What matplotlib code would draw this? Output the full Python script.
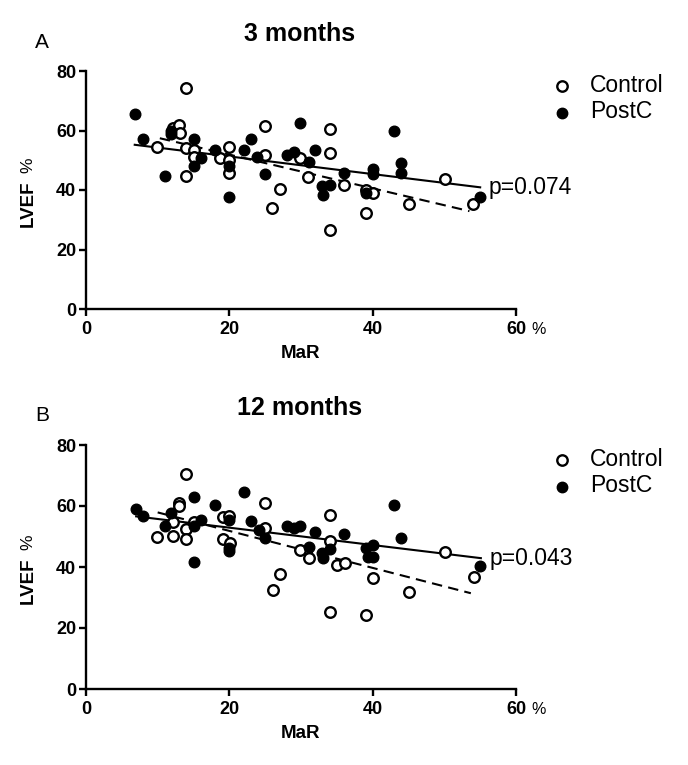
import numpy as np
import matplotlib
matplotlib.use("Agg")
import matplotlib.pyplot as plt

plt.rcParams['font.family'] = ['Liberation Sans', 'DejaVu Sans']

# ---- 3 months ----
ctrl3_x = [14.0, 9.9, 12.1, 13.0, 13.1, 13.9, 15.0, 15.0, 13.9, 18.7, 20.0, 20.0, 20.0,
           25.0, 25.0, 27.0, 25.9, 29.9, 31.0, 34.0, 34.0, 34.0, 36.0, 39.0, 40.1, 39.0,
           45.1, 50.1, 54.0]
ctrl3_y = [74.3, 54.6, 60.8, 61.7, 59.1, 54.1, 53.5, 51.2, 44.7, 50.7, 54.4, 50.1, 45.6,
           61.6, 51.8, 40.2, 33.8, 50.7, 44.5, 60.5, 52.6, 26.5, 41.7, 40.0, 38.9, 32.4,
           35.2, 43.7, 35.2]
post3_x = [6.9, 7.9, 11.0, 11.9, 11.9, 15.0, 15.0, 16.0, 18.0, 20.0, 20.0, 22.0, 23.0,
           23.8, 25.0, 28.0, 29.0, 29.9, 31.1, 32.0, 32.9, 33.0, 34.0, 36.0, 39.0, 40.0,
           40.0, 43.0, 44.0, 44.0, 55.0]
post3_y = [65.5, 57.2, 44.7, 59.7, 58.9, 57.2, 47.9, 50.7, 53.3, 37.7, 47.9, 53.3, 57.2,
           51.2, 45.4, 51.6, 52.9, 62.5, 49.5, 53.5, 41.3, 38.2, 41.7, 45.6, 38.9, 47.0,
           45.3, 59.9, 49.0, 45.6, 37.7]
fit3_post_x = [6.8, 55.0]
fit3_post_y = [55.2, 40.9]
fit3_ctrl_x = [10.3, 53.5]
fit3_ctrl_y = [57.4, 32.9]

# ---- 12 months ----
ctrl12_x = [14.0, 13.0, 13.0, 12.1, 9.9, 12.1, 13.9, 13.9, 15.0, 19.1, 20.0, 19.1, 20.1,
            25.0, 25.0, 27.0, 26.1, 29.9, 31.1, 34.0, 34.0, 35.0, 36.1, 34.0, 39.0, 40.1,
            45.1, 50.1, 54.1]
ctrl12_y = [70.4, 61.1, 60.0, 54.9, 50.0, 50.2, 52.4, 49.1, 54.9, 56.3, 56.8, 49.1, 47.8,
            61.1, 52.7, 37.8, 32.5, 45.6, 42.9, 57.1, 48.4, 40.7, 41.3, 25.1, 24.1, 36.4,
            31.7, 44.8, 36.7]
post12_x = [7.0, 7.9, 11.0, 11.9, 15.0, 15.0, 15.0, 16.0, 18.0, 20.0, 20.0, 20.0, 22.0,
            23.0, 24.1, 25.0, 28.0, 29.0, 29.9, 32.0, 31.1, 32.9, 33.1, 34.1, 36.0, 39.0,
            39.3, 40.0, 40.1, 43.0, 44.0, 55.0]
post12_y = [59.0, 56.8, 53.3, 57.6, 63.1, 41.8, 53.3, 55.5, 60.4, 55.5, 46.2, 45.1, 64.7,
            55.2, 52.2, 49.5, 53.3, 52.7, 53.5, 51.6, 46.7, 44.5, 42.9, 45.9, 50.8, 46.2,
            43.4, 47.3, 43.2, 60.4, 49.5, 40.4]
fit12_post_x = [7.0, 55.1]
fit12_post_y = [56.6, 42.9]
fit12_ctrl_x = [10.0, 53.7]
fit12_ctrl_y = [57.9, 31.4]

panels = [
    ("A", "3 months", "p=0.074", ctrl3_x, ctrl3_y, post3_x, post3_y,
     fit3_post_x, fit3_post_y, fit3_ctrl_x, fit3_ctrl_y),
    ("B", "12 months", "p=0.043", ctrl12_x, ctrl12_y, post12_x, post12_y,
     fit12_post_x, fit12_post_y, fit12_ctrl_x, fit12_ctrl_y),
]

W, H = 688, 765
fig = plt.figure(figsize=(W / 100, H / 100), dpi=100)

# axes boxes in pixels: (left, top, right, bottom)
boxes = [(86, 71, 516, 309), (86, 445, 516, 689)]


def fy(y):
    return 1 - y / H


for (letter, title, ptxt, cx, cy, px, py, fpx, fpy, fcx, fcy), (l, t, r, b) in zip(panels, boxes):
    ax = fig.add_axes([l / W, 1 - b / H, (r - l) / W, (b - t) / H])
    ax.plot(fpx, fpy, color='black', lw=1.5, zorder=2)
    ax.plot(fcx, fcy, color='black', lw=1.5, ls=(0, (5, 3)), zorder=2)
    ax.scatter(cx, cy, s=58, facecolors='white', edgecolors='black', linewidths=1.7,
               zorder=3, clip_on=False)
    ax.scatter(px, py, s=58, color='black', zorder=4, clip_on=False)
    ax.set_xlim(0, 60)
    ax.set_ylim(0, 80)
    ax.set_xticks([0, 20, 40, 60])
    ax.set_yticks([0, 20, 40, 60, 80])
    for s in ['top', 'right']:
        ax.spines[s].set_visible(False)
    for s in ['left', 'bottom']:
        ax.spines[s].set_linewidth(1.7)
    ax.tick_params(direction='out', length=5, width=1.7, labelsize=13)
    ax.tick_params(axis='x', pad=4)
    ax.tick_params(axis='y', pad=2)
    for lab in ax.get_xticklabels() + ax.get_yticklabels():
        lab.set_fontweight('bold')

    fig.text(300 / W, fy(b + 44), "MaR", fontsize=13.5, fontweight='bold',
             ha='center', va='center')
    # "%" after the 60 tick
    fig.text(531 / W, fy(b + 20), "%", fontsize=11.5, ha='left', va='center')
    # y label
    ymid = (t + b) / 2
    fig.text(28 / W, fy(ymid + 14), "LVEF", fontsize=13.5, fontweight='bold',
             rotation=90, ha='center', va='center')
    fig.text(28 / W, fy(ymid - 25), "%", fontsize=12.5,
             rotation=90, ha='center', va='center')

    # panel letter and title
    fig.text(35 / W, fy(t - 29), letter, fontsize=15, ha='left', va='center')
    fig.text(300 / W, fy(t - 37), title, fontsize=18, fontweight='bold',
             ha='center', va='center')

    # legend
    fig.lines.append(plt.Line2D([562 / W], [fy(t + 15)], marker='o', ms=7.5,
                                mfc='white', mec='black', mew=1.7, ls='none',
                                transform=fig.transFigure))
    fig.lines.append(plt.Line2D([562 / W], [fy(t + 42)], marker='o', ms=7.5,
                                color='black', ls='none', transform=fig.transFigure))
    fig.text(590 / W, fy(t + 14), "Control", fontsize=16.5, ha='left', va='center')
    fig.text(590 / W, fy(t + 41), "PostC", fontsize=16.5, ha='left', va='center')

    # p value next to the fit line end
    ax.annotate(ptxt, xy=(fpx[-1], fpy[-1]), xytext=(6, 0), textcoords='offset points',
                fontsize=16.5, ha='left', va='center')

fig.savefig("out.png", dpi=100)
